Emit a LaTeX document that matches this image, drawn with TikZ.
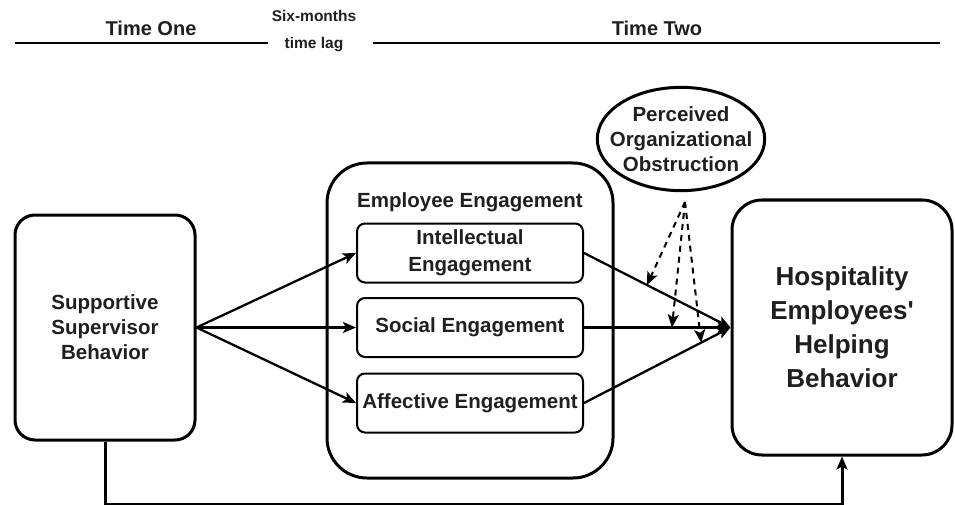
\documentclass[tikz,border=0pt]{standalone}
\usepackage{fontspec}
\setmainfont{Liberation Sans}
\usetikzlibrary{arrows.meta,shapes.geometric}
\begin{document}
\begin{tikzpicture}[x=1pt,y=-1pt,
  txt/.style={font=\bfseries\fontsize{20.5}{25}\selectfont, align=center, inner sep=0pt, text=black!88},
  outerbox/.style={txt, draw, line width=3pt, rounded corners=20pt},
  innerbox/.style={txt, draw, line width=2pt, rounded corners=8pt, minimum width=226pt, minimum height=59pt},
  arr/.style={line width=2.3pt, -{Stealth[length=13pt,width=11pt,inset=3pt]}},
  modarr/.style={line width=2pt, dash pattern=on 6pt off 5pt, -{Stealth[length=13pt,width=11pt,inset=3pt]}}
]
\useasboundingbox (0,0) rectangle (955,505);

% time axis
\node[txt, font=\bfseries\fontsize{20}{24}\selectfont] (t1) at (151,28) {Time One};
\node[txt, font=\bfseries\fontsize{15.5}{27}\selectfont] (lag) at (314,31) {Six-months\\time lag};
\node[txt, font=\bfseries\fontsize{20}{24}\selectfont] (t2) at (657,28) {Time Two};
\coordinate (a1) at (15,43);
\coordinate (a2) at (268,43);
\coordinate (b1) at (373,43);
\coordinate (b2) at (940,43);
\draw[line width=1.3pt] (a1) -- (a2);
\draw[line width=2.6pt] (b1) -- (b2);

% antecedent
\node[outerbox, minimum width=180pt, minimum height=225pt] (ssb) at (105,327.5)
  {Supportive\\Supervisor\\Behavior};

% mediators
\node[outerbox, rounded corners=40pt, minimum width=286pt, minimum height=315pt] (ee) at (470,320.5) {};
\node[txt] (eet) at (470,202) {Employee Engagement};
\node[innerbox, font=\bfseries\fontsize{20.5}{27}\selectfont] (ie) at (470,253) {Intellectual\\Engagement};
\node[innerbox] (se) at (470,327.5) {Social Engagement};
\node[innerbox] (ae) at (470,403) {Affective Engagement};

% outcome
\node[outerbox, rounded corners=30pt, minimum width=220pt, minimum height=255pt,
      font=\bfseries\fontsize{26}{34}\selectfont] (hosp) at (842,327.5)
  {Hospitality\\Employees\textquotesingle\\Helping\\Behavior};

% moderator
\node[txt, draw, ellipse, line width=3pt, inner xsep=-12pt, inner ysep=4pt] (poo) at (681,139)
  {Perceived\\Organizational\\Obstruction};

% paths
\draw[arr] (ssb.east) -- (ie.west);
\draw[arr] (ssb.east) -- (se.west);
\draw[arr] (ssb.east) -- (ae.west);
\draw[arr] (ie.east) -- (hosp.west) coordinate[pos=0.43] (m1);
\draw[arr] (se.east) -- (hosp.west) coordinate[pos=0.6] (m2);
\draw[arr] (ae.east) -- (hosp.west) coordinate[pos=0.8] (m3);
\draw[arr, line width=3pt] (ssb.south) -- ++(0,63) -| (hosp.south);

% moderation
\coordinate (mod) at (685,202);
\draw[modarr] (mod) -- (m1);
\draw[modarr] (mod) -- (m2);
\draw[modarr] (mod) -- (m3);
\end{tikzpicture}
\end{document}
